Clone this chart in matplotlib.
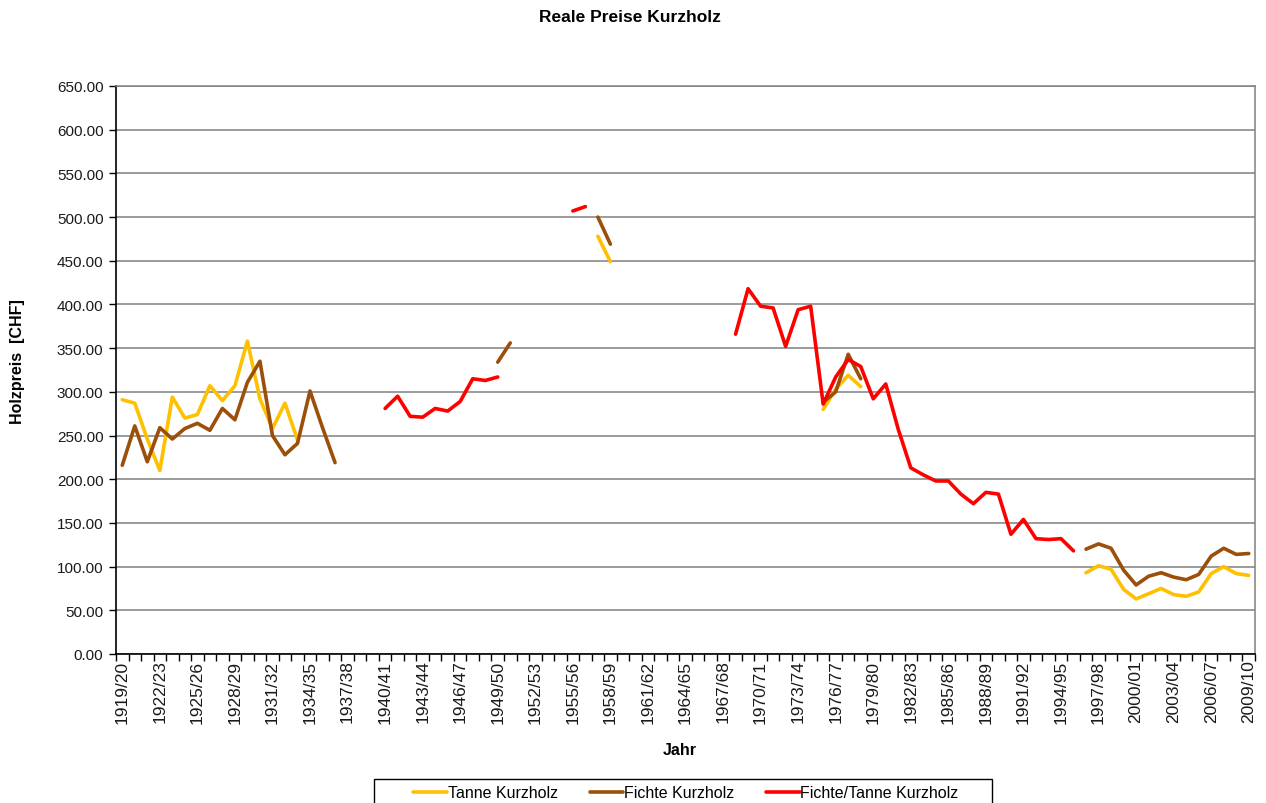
import numpy as np
import matplotlib
matplotlib.use("Agg")
import matplotlib.pyplot as plt
from matplotlib.patches import Rectangle
from matplotlib.ticker import FixedLocator, FuncFormatter

plt.rcParams["font.family"] = ["Liberation Sans", "DejaVu Sans"]

N = np.nan

# Harvest years 1919/20 .. 2009/10
years = [f"{y}/{(y + 1) % 100:02d}" for y in range(1919, 2010)]

# Tanne Kurzholz (CHF, real prices)
tanne = [291, 287, 246, 210, 294, 270, 274, 307, 290, 307,
         358, 292, 258, 287, 245, N, N, N, N, N,
         N, N, N, N, N, N, N, N, N, N,
         N, N, N, N, N, N, N, N, 478, 449,
         N, N, N, N, N, N, N, N, N, N,
         N, N, N, N, N, N, 280, 303, 319, 306,
         N, N, N, N, N, N, N, N, N, N,
         N, N, N, N, N, N, N, 93, 101, 97,
         74, 63, 69, 75, 68, 66, 71, 92, 100, 92,
         90]

# Fichte Kurzholz
fichte = [216, 261, 220, 259, 246, 258, 264, 256, 281, 268,
          311, 335, 250, 228, 241, 301, 259, 219, N, N,
          N, N, N, N, N, N, N, N, N, N,
          334, 356, N, N, N, N, N, N, 500, 469,
          N, N, N, N, N, N, N, N, N, N,
          N, N, N, N, N, N, 288, 300, 343, 315,
          N, N, N, N, N, N, N, N, N, N,
          N, N, N, N, N, N, N, 120, 126, 121,
          96, 79, 89, 93, 88, 85, 91, 112, 121, 114,
          115]

# Fichte/Tanne Kurzholz
mixed = [N, N, N, N, N, N, N, N, N, N,
         N, N, N, N, N, N, N, N, N, N,
         N, 281, 295, 272, 271, 281, 278, 289, 315, 313,
         317, N, N, N, N, N, 507, 512, N, N,
         N, N, N, N, N, N, N, N, N, 366,
         418, 398, 396, 352, 394, 398, 286, 317, 337, 329,
         292, 309, 257, 213, 205, 198, 198, 183, 172, 185,
         183, 137, 154, 132, 131, 132, 118, N, N, N,
         N, N, N, N, N, N, N, N, N, N,
         N]

YELLOW = "#FFC000"
BROWN = "#9C4F0A"
RED = "#FF0000"
GRID = "#808080"
TEXT = "#1a1a1a"

fig = plt.figure(figsize=(12.66, 8.04), dpi=100, facecolor="white")
ax = fig.add_axes([116 / 1266, 1 - 655 / 804, (1255 - 116) / 1266, (655 - 87) / 804])

x = np.arange(len(years))
line_kw = dict(lw=2.6, solid_joinstyle="round", solid_capstyle="round")
ax.plot(x, np.array(tanne, dtype=float), color=YELLOW, label="Tanne Kurzholz", zorder=3, **line_kw)
ax.plot(x, np.array(fichte, dtype=float), color=BROWN, label="Fichte Kurzholz", zorder=4, **line_kw)
ax.plot(x, np.array(mixed, dtype=float), color=RED, label="Fichte/Tanne Kurzholz", zorder=5, **line_kw)

ax.set_xlim(-0.5, len(years) - 0.5)
ax.set_ylim(0, 650)

# y axis
ax.set_yticks(np.arange(0, 651, 50))
ax.yaxis.set_major_formatter(FuncFormatter(lambda v, p: f"{v:.2f}"))
ax.grid(axis="y", color=GRID, lw=1.1, zorder=0)
ax.set_axisbelow(True)
ax.tick_params(axis="y", direction="out", length=5, width=1, color="black",
               labelsize=11, labelcolor=TEXT, pad=4)

# x axis: labels every 3rd year, tick marks at every category boundary
ax.xaxis.set_major_locator(FixedLocator(x[::3]))
ax.set_xticklabels(years[::3], rotation=90)
ax.xaxis.set_minor_locator(FixedLocator(np.arange(-0.5, len(years), 1.0)))
ax.tick_params(axis="x", which="major", length=0, labelsize=12.5, labelcolor=TEXT, pad=4)
ax.tick_params(axis="x", which="minor", direction="out", length=5, width=1, color="black")

for side in ("left", "bottom"):
    ax.spines[side].set_color("black")
    ax.spines[side].set_linewidth(1.2)
for side in ("top", "right"):
    ax.spines[side].set_color(GRID)
    ax.spines[side].set_linewidth(1.1)

fig.text(630 / 1266, 1 - 18 / 804, "Reale Preise Kurzholz", ha="center", va="center",
         fontsize=12.5, fontweight="bold", color="black")
fig.text(18 / 1266, 1 - 362 / 804, "Holzpreis  [CHF]", ha="center", va="center",
         rotation=90, fontsize=11.5, fontweight="bold", color="black")
fig.text(680 / 1266, 1 - 751 / 804, "Jahr", ha="center", va="center",
         fontsize=11.5, fontweight="bold", color="black")

# legend box, cut off at the bottom like the original
fig.patches.append(Rectangle((374 / 1266, -0.02), (992 - 374) / 1266, 0.02 + (804 - 780) / 804,
                             transform=fig.transFigure, facecolor="white",
                             edgecolor="black", lw=1))
fig.legend(loc="center", bbox_to_anchor=(686 / 1266, 1 - 794 / 804), ncol=3,
           frameon=False, fontsize=11.5, handlelength=2.1, handletextpad=0.05,
           columnspacing=2.0, borderpad=0)

fig.savefig("out.png", dpi=100, facecolor="white")
